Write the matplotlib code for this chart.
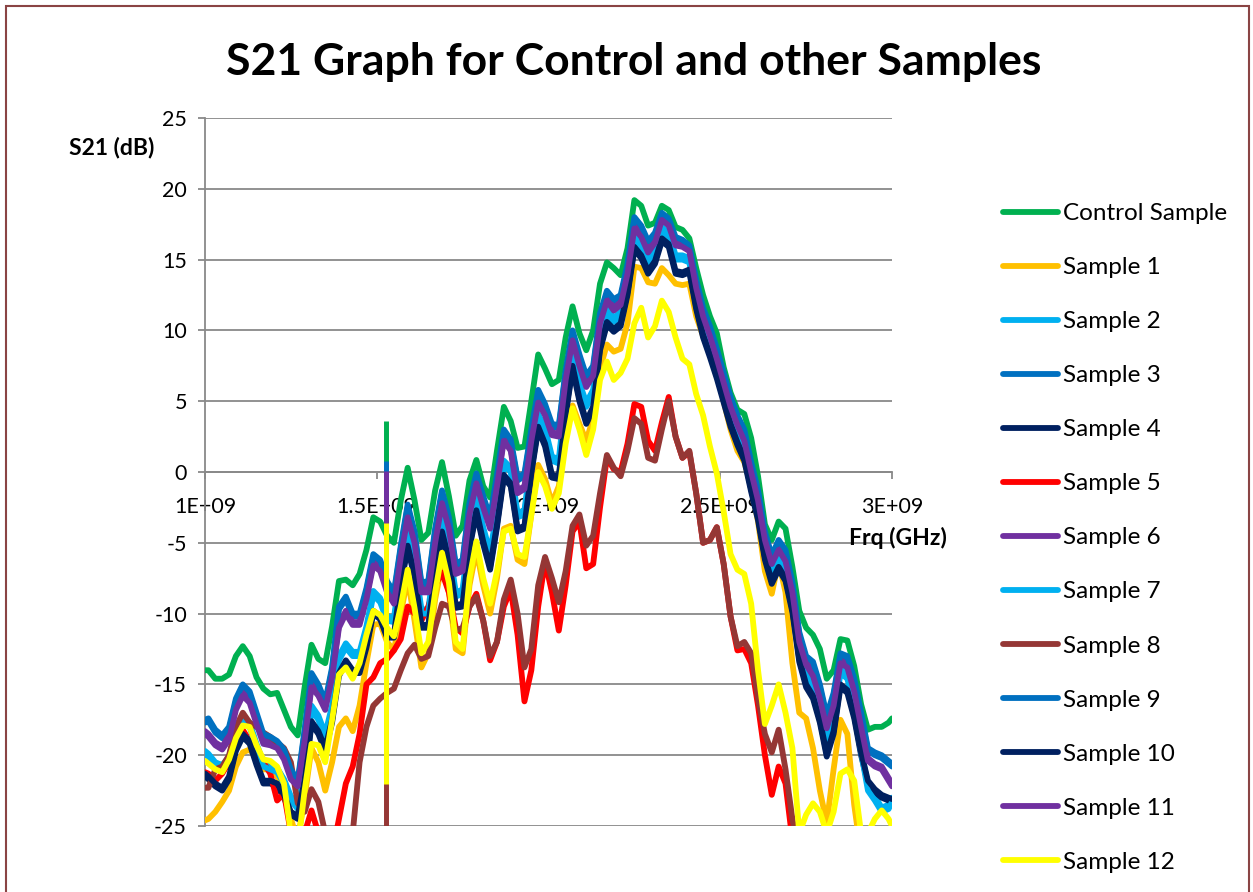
import matplotlib
matplotlib.use('Agg')
import matplotlib.pyplot as plt
from matplotlib.patches import Rectangle

plt.rcParams['font.family'] = ['Lato', 'DejaVu Sans']

# Frequency grid in GHz (1.00, 1.01, 1.03, ..., 2.99, 3.00)
freq_ghz = [1.00] + [round(1.01 + 0.02 * k, 2) for k in range(100)] + [3.00]

series_names = ["Control Sample", "Sample 1", "Sample 2", "Sample 3", "Sample 4",
                "Sample 5", "Sample 6", "Sample 7", "Sample 8", "Sample 9",
                "Sample 10", "Sample 11", "Sample 12"]
series_colors = ["#00B050", "#FFC000", "#00B0F0", "#0070C0", "#002060",
                 "#FF0000", "#7030A0", "#00B0F0", "#953735", "#0070C0",
                 "#002060", "#7030A0", "#FFFF00"]

control = [
    -14.0, -14.0, -14.6, -14.6, -14.3, -13.0, -12.3, -13.0, -14.5, -15.3,
    -15.7, -15.6, -16.8, -18.0, -18.6, -15.2, -12.2, -13.2, -13.5, -10.9,
    -7.7, -7.6, -8.0, -7.2, -5.5, -3.2, -3.5, -4.5, -5.0, -2.0,
    0.3, -2.0, -4.8, -4.3, -1.3, 0.7, -1.7, -4.5, -3.8, -0.6,
    0.85, -1.0, -1.8, 1.5, 4.6, 3.6, 1.7, 1.8, 5.0, 8.3,
    7.3, 6.2, 6.5, 9.5, 11.7, 9.8, 8.6, 10.0, 13.3, 14.8,
    14.4, 13.9, 15.8, 19.2, 18.8, 17.4, 17.6, 18.8, 18.5, 17.3,
    17.1, 16.5, 14.4, 12.5, 11.0, 9.8, 7.4, 5.6, 4.4, 4.1,
    2.4, -0.3, -3.7, -4.8, -3.5, -4.0, -6.7, -9.8, -11.0, -11.5,
    -12.5, -14.6, -14.0, -11.8, -11.9, -13.7, -16.4, -18.2, -18.0, -18.0,
    -17.7, -17.4]

sample1 = [
    -24.6, -24.5, -24.0, -23.3, -22.5, -20.8, -19.8, -19.6, -20.2, -21.0,
    -21.0, -21.5, -22.5, -24.5, -26.0, -23.0, -19.5, -20.5, -22.5, -20.5,
    -18.0, -17.4, -18.3, -16.5, -13.5, -10.8, -10.7, -12.0, -12.6, -10.0,
    -7.5, -10.5, -13.8, -12.8, -9.0, -6.5, -8.5, -12.5, -12.8, -8.0,
    -5.5, -8.0, -10.0, -7.5, -4.0, -3.8, -6.2, -6.5, -3.0, 0.5,
    -0.5, -2.2, -1.0, 2.5, 4.7, 3.4, 2.2, 3.8, 7.3, 9.0,
    8.5, 8.7, 10.5, 14.5, 14.4, 13.4, 13.3, 14.4, 13.9, 13.3,
    13.2, 13.3, 11.0, 9.6, 8.6, 7.5, 5.0, 3.0, 1.5, 0.7,
    -1.0, -3.5, -7.0, -8.6, -6.3, -8.5, -13.5, -17.0, -17.4, -19.5,
    -22.5, -24.8, -21.0, -17.5, -18.5, -23.5, -27.0, -27.0, -27.0, -27.0,
    -27.0, -27.0]

sample2 = [
    -19.7, -19.9, -20.5, -20.7, -20.1, -18.2, -17.3, -17.7, -19.2, -20.5,
    -20.7, -20.9, -21.7, -22.9, -23.5, -20.7, -16.5, -17.2, -18.5, -16.5,
    -13.0, -12.1, -12.7, -12.7, -10.9, -8.4, -8.9, -10.2, -10.3, -6.9,
    -4.2, -6.2, -9.7, -9.7, -6.2, -3.2, -5.2, -8.5, -8.3, -4.2,
    -1.7, -3.9, -5.7, -2.7, 0.8, 0.3, -2.9, -2.7, 1.1, 4.1,
    3.1, 1.1, 0.9, 5.3, 8.5, 6.3, 4.9, 5.8, 9.8, 11.5,
    10.9, 11.3, 13.5, 16.7, 16.1, 15.0, 15.7, 17.3, 16.9, 15.3,
    15.3, 15.1, 12.5, 10.5, 9.1, 7.5, 5.8, 4.1, 2.8, 1.7,
    -0.5, -2.5, -5.3, -7.0, -6.0, -6.8, -9.0, -12.5, -14.2, -15.0,
    -16.7, -18.9, -17.3, -13.9, -14.3, -16.3, -19.5, -22.2, -22.9, -23.7,
    -23.5, -23.0]

sample3 = [
    -17.7, -17.6, -18.4, -18.8, -18.2, -16.2, -15.2, -15.7, -17.2, -18.7,
    -18.9, -19.2, -19.8, -21.2, -22.0, -18.4, -14.4, -15.2, -16.4, -14.0,
    -9.7, -9.0, -10.2, -10.2, -8.4, -6.0, -6.4, -7.9, -8.7, -5.4,
    -2.5, -4.4, -8.0, -7.9, -4.2, -1.5, -3.4, -6.7, -6.4, -2.4,
    -0.3, -1.9, -3.4, -0.4, 2.8, 2.1, -0.6, -0.3, 2.8, 5.6,
    4.6, 3.2, 3.1, 7.0, 9.8, 8.1, 6.6, 7.3, 11.0, 12.6,
    12.0, 12.3, 14.5, 17.8, 17.2, 16.1, 16.7, 18.1, 17.7, 16.4,
    16.2, 15.8, 13.4, 11.4, 10.1, 8.5, 6.8, 5.1, 3.8, 2.8,
    0.5, -1.5, -4.4, -6.1, -5.0, -5.7, -8.0, -11.5, -13.2, -13.6,
    -15.2, -17.4, -15.8, -13.0, -13.2, -14.8, -17.2, -19.7, -20.0, -20.2,
    -20.6, -20.8]

sample4 = [
    -21.5, -21.7, -22.2, -22.5, -21.7, -19.7, -18.7, -19.2, -20.7, -22.0,
    -22.0, -22.2, -23.0, -24.2, -24.5, -21.9, -17.8, -18.5, -19.7, -17.7,
    -14.4, -13.5, -14.2, -14.2, -12.4, -10.0, -10.4, -11.7, -11.7, -8.0,
    -5.4, -7.4, -11.0, -11.0, -7.4, -4.4, -6.4, -9.6, -9.5, -5.4,
    -2.9, -5.1, -6.9, -3.9, -0.4, -1.0, -4.2, -4.0, -0.1, 3.0,
    1.8, -0.4, -0.5, 4.0, 7.3, 5.0, 3.4, 4.4, 8.6, 10.4,
    9.9, 10.3, 12.5, 15.7, 15.1, 14.0, 14.7, 16.3, 15.9, 14.0,
    13.9, 14.1, 11.5, 9.5, 8.1, 6.6, 4.9, 3.2, 1.9, 0.8,
    -1.4, -3.4, -6.2, -7.9, -6.9, -7.7, -9.9, -13.4, -15.2, -16.0,
    -17.7, -20.1, -18.5, -15.2, -15.6, -17.4, -20.0, -22.0, -22.6, -23.0,
    -23.2, -23.3]

sample5 = [
    -21.2, -21.3, -21.8, -21.3, -20.5, -19.0, -18.2, -19.0, -19.5, -20.5,
    -21.3, -23.2, -22.7, -25.5, -26.5, -25.5, -23.9, -25.5, -27.0, -27.0,
    -24.5, -22.0, -20.8, -18.5, -15.0, -14.5, -13.5, -13.2, -12.6, -11.8,
    -9.5, -10.0, -10.5, -9.5, -8.0, -7.1, -8.5, -11.0, -11.4, -9.5,
    -8.6, -10.5, -13.3, -12.0, -9.5, -8.3, -11.5, -16.2, -14.0, -9.5,
    -6.3, -8.5, -11.2, -8.0, -4.2, -3.5, -6.8, -6.5, -2.5, 1.0,
    0.2, 0.0, 2.0, 4.8, 4.6, 2.2, 1.5, 3.5, 5.3, 2.5,
    1.0, 1.4, -1.5, -5.0, -4.8, -3.9, -6.5, -10.2, -12.6, -12.5,
    -13.5, -16.5, -20.0, -22.8, -20.8, -22.0, -26.0, -27.0, -27.0, -27.0,
    -27.0, -27.0, -27.0, -27.0, -27.0, -27.0, -27.0, -27.0, -27.0, -27.0,
    -27.0, -27.0]

sample6 = [
    -18.3, -18.5, -19.1, -19.4, -18.6, -16.6, -15.6, -16.1, -17.6, -19.0,
    -19.1, -19.3, -20.1, -21.5, -22.0, -18.8, -15.0, -15.6, -16.6, -14.3,
    -10.8, -9.8, -10.6, -10.6, -8.8, -6.4, -6.8, -8.3, -9.1, -5.8,
    -3.0, -4.8, -8.3, -8.3, -4.8, -2.0, -3.8, -7.0, -6.8, -2.8,
    -0.6, -2.3, -3.8, -0.8, 2.4, 1.7, -1.3, -1.0, 2.4, 5.1,
    4.2, 2.8, 2.7, 6.7, 9.5, 7.7, 6.2, 7.0, 10.7, 12.3,
    11.6, 12.0, 14.2, 17.4, 16.8, 15.7, 16.4, 18.0, 17.6, 16.2,
    16.1, 15.8, 13.2, 11.2, 9.8, 8.2, 6.5, 4.8, 3.5, 2.4,
    0.2, -1.8, -4.6, -6.3, -5.3, -6.1, -8.3, -11.8, -13.4, -14.2,
    -15.8, -17.9, -16.3, -13.3, -13.6, -15.3, -17.8, -20.2, -20.6, -20.8,
    -21.6, -22.0]

sample7 = [
    -20.0, -20.2, -20.8, -21.0, -20.4, -18.5, -17.6, -18.0, -19.5, -20.8,
    -21.0, -21.2, -22.0, -23.2, -23.8, -21.0, -16.8, -17.5, -18.8, -16.8,
    -13.3, -12.4, -13.0, -13.0, -11.2, -8.7, -9.2, -10.5, -10.6, -7.2,
    -4.5, -6.5, -10.0, -10.0, -6.5, -3.5, -5.5, -8.8, -8.6, -4.5,
    -2.0, -4.2, -6.0, -3.0, 0.5, 0.0, -3.2, -3.0, 0.8, 3.8,
    2.8, 0.8, 0.6, 5.0, 8.2, 6.0, 4.6, 5.5, 9.5, 11.2,
    10.6, 11.0, 13.2, 16.4, 15.8, 14.7, 15.4, 17.0, 16.6, 15.0,
    15.0, 14.8, 12.2, 10.2, 8.8, 7.2, 5.5, 3.8, 2.5, 1.4,
    -0.8, -2.8, -5.6, -7.3, -6.3, -7.1, -9.3, -12.8, -14.5, -15.3,
    -17.0, -19.2, -17.6, -14.2, -14.6, -16.6, -19.8, -22.5, -23.2, -24.0,
    -23.8, -23.3]

sample8 = [
    -22.3, -22.3, -21.0, -20.8, -20.0, -18.0, -17.0, -17.7, -18.0, -18.4,
    -18.7, -19.1, -19.5, -20.5, -23.4, -24.0, -22.4, -23.3, -25.5, -27.0,
    -27.0, -27.0, -25.5, -20.5, -18.0, -16.5, -16.0, -15.6, -15.3, -14.0,
    -12.8, -12.2, -13.2, -13.0, -11.0, -9.3, -9.5, -11.2, -11.0, -9.5,
    -8.8, -10.5, -13.0, -12.0, -9.0, -7.6, -10.0, -13.8, -12.5, -8.0,
    -6.0, -7.5, -9.2, -7.0, -3.8, -3.0, -5.2, -4.5, -1.5, 1.2,
    0.3, -0.3, 1.5, 3.8, 3.4, 1.0, 0.8, 3.0, 5.0, 2.5,
    1.0, 1.5, -1.5, -5.0, -4.8, -3.9, -6.5, -10.2, -12.3, -12.0,
    -12.8, -16.0, -18.5, -19.8, -18.2, -21.0, -24.5, -27.0, -27.0, -27.0,
    -27.0, -27.0, -27.0, -27.0, -27.0, -27.0, -27.0, -27.0, -27.0, -27.0,
    -27.0, -27.0]

sample9 = [
    -17.5, -17.4, -18.2, -18.6, -18.0, -16.0, -15.0, -15.5, -17.0, -18.5,
    -18.7, -19.0, -19.6, -21.0, -21.8, -18.2, -14.2, -15.0, -16.2, -13.8,
    -9.5, -8.8, -10.0, -10.0, -8.2, -5.8, -6.2, -7.7, -8.5, -5.2,
    -2.3, -4.2, -7.8, -7.7, -4.0, -1.3, -3.2, -6.5, -6.2, -2.2,
    -0.1, -1.7, -3.2, -0.2, 3.0, 2.3, -0.4, -0.1, 3.0, 5.8,
    4.8, 3.4, 3.3, 7.2, 10.0, 8.3, 6.8, 7.5, 11.2, 12.8,
    12.2, 12.5, 14.7, 18.0, 17.4, 16.3, 16.9, 18.3, 17.9, 16.6,
    16.4, 16.0, 13.6, 11.6, 10.3, 8.7, 7.0, 5.3, 4.0, 3.0,
    0.7, -1.3, -4.2, -5.9, -4.8, -5.5, -7.8, -11.3, -13.0, -13.4,
    -15.0, -17.2, -15.6, -12.8, -13.0, -14.6, -17.0, -19.5, -19.8, -20.0,
    -20.4, -20.6]

sample10 = [
    -21.3, -21.5, -22.0, -22.3, -21.5, -19.5, -18.5, -19.0, -20.5, -21.8,
    -21.8, -22.0, -22.8, -24.0, -24.3, -21.7, -17.6, -18.3, -19.5, -17.5,
    -14.2, -13.3, -14.0, -14.0, -12.2, -9.8, -10.2, -11.5, -11.5, -7.8,
    -5.2, -7.2, -10.8, -10.8, -7.2, -4.2, -6.2, -9.4, -9.3, -5.2,
    -2.7, -4.9, -6.7, -3.7, -0.2, -0.8, -4.0, -3.8, 0.1, 3.2,
    2.0, -0.2, -0.3, 4.2, 7.5, 5.2, 3.6, 4.6, 8.8, 10.6,
    10.1, 10.5, 12.7, 15.9, 15.3, 14.2, 14.9, 16.5, 16.1, 14.2,
    14.1, 14.3, 11.7, 9.7, 8.3, 6.8, 5.1, 3.4, 2.1, 1.0,
    -1.2, -3.2, -6.0, -7.7, -6.7, -7.5, -9.7, -13.2, -15.0, -15.8,
    -17.5, -19.9, -18.3, -15.0, -15.4, -17.2, -19.8, -21.8, -22.4, -22.8,
    -23.0, -23.1]

sample11 = [
    -18.5, -18.7, -19.3, -19.6, -18.9, -16.8, -15.8, -16.3, -17.8, -19.2,
    -19.3, -19.5, -20.3, -21.7, -22.2, -19.0, -15.2, -15.8, -16.8, -14.5,
    -11.0, -10.0, -10.8, -10.8, -9.0, -6.6, -7.0, -8.5, -9.3, -6.0,
    -3.2, -5.0, -8.5, -8.5, -5.0, -2.2, -4.0, -7.2, -7.0, -3.0,
    -0.8, -2.5, -4.0, -1.0, 2.2, 1.5, -1.5, -1.2, 2.2, 4.9,
    4.0, 2.6, 2.5, 6.5, 9.3, 7.5, 6.0, 6.8, 10.5, 12.1,
    11.4, 11.8, 14.0, 17.2, 16.6, 15.5, 16.2, 17.8, 17.4, 16.0,
    15.9, 15.6, 13.0, 11.0, 9.6, 8.0, 6.3, 4.6, 3.3, 2.2,
    0.0, -2.0, -4.8, -6.5, -5.5, -6.3, -8.5, -12.0, -13.6, -14.4,
    -16.0, -18.1, -16.5, -13.5, -13.8, -15.5, -18.0, -20.4, -20.8, -21.0,
    -21.8, -22.2]

sample12 = [
    -20.4, -20.6, -21.0, -21.2, -20.3, -18.8, -17.9, -18.0, -19.3, -20.3,
    -20.4, -20.8, -22.0, -25.5, -26.5, -22.5, -19.2, -19.3, -20.5, -17.5,
    -14.3, -13.8, -14.6, -13.5, -11.5, -9.8, -10.1, -11.0, -11.6, -9.5,
    -6.9, -9.6, -12.8, -12.0, -8.5, -5.7, -7.8, -12.0, -12.5, -7.5,
    -4.9, -7.5, -9.3, -7.0, -4.2, -4.0, -5.8, -6.0, -3.0, 0.0,
    -1.0, -2.6, -1.5, 2.0, 4.5, 3.0, 1.2, 3.0, 6.5, 7.8,
    6.5, 7.0, 8.0, 10.5, 11.6, 9.5, 10.3, 12.1, 11.3, 9.5,
    8.0, 7.6, 5.5, 4.0, 1.8, -0.1, -2.8, -5.8, -6.9, -7.2,
    -9.3, -14.0, -17.8, -16.5, -15.0, -17.0, -19.5, -25.5, -24.2, -23.4,
    -24.0, -25.5, -24.0, -21.3, -21.0, -21.8, -25.5, -25.5, -24.5, -23.9,
    -24.5, -25.0]

series_values = [control, sample1, sample2, sample3, sample4, sample5, sample6,
                 sample7, sample8, sample9, sample10, sample11, sample12]

# Narrow spike near 1.527 GHz: (low, high) in dB for the series that show it
spike_freq = 1.527
spike_ranges = {
    "Control Sample": (-4.5, 3.6),
    "Sample 3": (-7.9, 0.6),
    "Sample 6": (-8.3, 0.0),
    "Sample 8": (-27.0, -15.6),
    "Sample 9": (-7.7, 0.8),
    "Sample 11": (-8.5, 0.1),
    "Sample 12": (-22.0, -3.6),
}

x_tick_vals = [1.0, 1.5, 2.0, 2.5, 3.0]
x_tick_labels = ["1E+09", "1.5E+09", "2E+09", "2.5E+09", "3E+09"]
y_tick_vals = list(range(-25, 26, 5))

W, H = 1253, 892
fig = plt.figure(figsize=(W / 100, H / 100), dpi=100)
ax = fig.add_axes([205 / W, 1 - 826 / H, 687 / W, 708 / H])

grid_col = '#898989'
lw = 4.2
handles = []
for name, vals, col in zip(series_names, series_values, series_colors):
    assert len(vals) == len(freq_ghz), name
    ln, = ax.plot(freq_ghz, vals, color=col, lw=lw, solid_joinstyle='round',
                  solid_capstyle='round', label=name, zorder=3)
    handles.append(ln)
    if name in spike_ranges:
        lo, hi = spike_ranges[name]
        ax.plot([spike_freq, spike_freq], [lo, hi], color=col, lw=lw * 0.85,
                solid_capstyle='butt', zorder=3)

ax.set_xlim(1.0, 3.0)
ax.set_ylim(-25, 25)
ax.set_xticks(x_tick_vals)
ax.set_xticklabels(x_tick_labels)
ax.set_yticks(y_tick_vals)
ax.set_yticklabels([str(v) for v in y_tick_vals])

ax.spines['top'].set_visible(False)
ax.spines['right'].set_visible(False)
ax.spines['bottom'].set_position(('data', 0))
for s in ('bottom', 'left'):
    ax.spines[s].set_color(grid_col)
    ax.spines[s].set_linewidth(1.3)
    ax.spines[s].set_zorder(2.5)

ax.yaxis.grid(True, color=grid_col, lw=1.3, zorder=0)
ax.set_axisbelow(True)
ax.tick_params(axis='both', direction='out', length=5, width=1.3, color=grid_col,
               labelsize=15.5, labelcolor='black')
ax.tick_params(axis='y', pad=8)
ax.tick_params(axis='x', pad=13)

fig.text(634 / W, 1 - 62 / H, 'S21 Graph for Control and other Samples',
         ha='center', va='center', fontsize=32, fontweight='bold')
fig.text(112 / W, 1 - 147 / H, 'S21 (dB)', ha='center', va='center',
         fontsize=16.5, fontweight='bold')
fig.text(898 / W, 1 - 538 / H, 'Frq (GHz)', ha='center', va='center',
         fontsize=16.5, fontweight='bold')

leg = ax.legend(handles=handles, labels=series_names, loc='upper left',
                bbox_to_anchor=(1003 / W, 1 - 203 / H), bbox_transform=fig.transFigure,
                frameon=False, fontsize=17.5, handlelength=2.26, handletextpad=0.2,
                labelspacing=1.36, borderpad=0, borderaxespad=0)

fig.patches.append(Rectangle((6 / W, -0.05), (1249 - 6) / W, (1 - 6 / H) + 0.05,
                             transform=fig.transFigure, fill=False,
                             edgecolor='#8A4444', lw=1.5))

fig.savefig('out.png', dpi=100)
